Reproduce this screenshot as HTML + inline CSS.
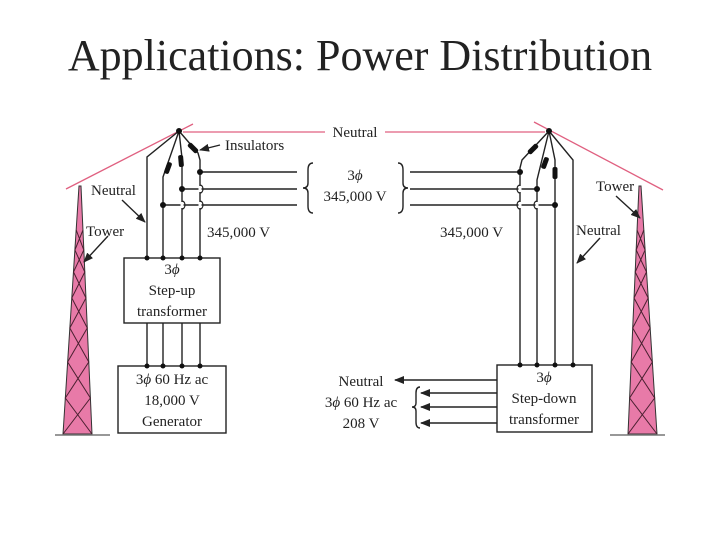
<!DOCTYPE html>
<html><head><meta charset="utf-8"><style>
html,body{margin:0;padding:0;background:#fff;}
svg{display:block;}
text{font-family:"Liberation Serif",serif;fill:#222;}
</style></head><body>
<svg width="720" height="540" viewBox="0 0 720 540" xmlns="http://www.w3.org/2000/svg">
<defs>
<marker id="ah" markerWidth="10" markerHeight="8" refX="9" refY="4" orient="auto" markerUnits="userSpaceOnUse">
<path d="M0,0 L10,4 L0,8 Z" fill="#222"/></marker>
<g id="tower">
<polygon points="79,186 81,186 92,434 63,434" fill="#e87aa8" stroke="#333" stroke-width="1"/>
<polyline fill="none" stroke="#4a2030" stroke-width="1" points="76.2,230 83.8,250 73.5,272 86,298 69.8,328 88.8,362 65.3,398 92,434"/>
<polyline fill="none" stroke="#4a2030" stroke-width="1" points="83,230 74.9,250 84.8,272 71.8,298 87.3,328 67.6,362 90.4,398 63,434"/>
<line x1="55" y1="435" x2="110" y2="435" stroke="#777" stroke-width="1.5"/>
</g>
</defs>

<text x="360" y="70" font-size="44" text-anchor="middle">Applications: Power Distribution</text>

<g stroke="#e06080" stroke-width="1.3" fill="none">
<line x1="66" y1="189" x2="193" y2="124"/>
<line x1="183" y1="132" x2="325" y2="132"/>
<line x1="385" y1="132" x2="545" y2="132"/>
<line x1="534" y1="122" x2="663" y2="190"/>
</g>
<text x="355" y="137" font-size="15" text-anchor="middle">Neutral</text>

<use href="#tower"/>
<use href="#tower" transform="translate(720,0) scale(-1,1)"/>

<g stroke="#222" stroke-width="1.4" fill="none">
<polyline points="179,131 147,157 147,258"/>
<polyline points="179,131 163,177 163,258"/>
<polyline points="179,131 182,158 182,258"/>
<polyline points="179,131 198,153 200,160 200,258"/>
<line x1="200" y1="172" x2="297" y2="172"/>
<line x1="182" y1="189" x2="297" y2="189"/>
<line x1="163" y1="205" x2="297" y2="205"/>
<line x1="147" y1="323" x2="147" y2="366"/>
<line x1="163" y1="323" x2="163" y2="366"/>
<line x1="182" y1="323" x2="182" y2="366"/>
<line x1="200" y1="323" x2="200" y2="366"/>
<polyline points="549,131 573,160 573,365"/>
<polyline points="549,131 522,160 520,168 520,365"/>
<polyline points="549,131 537,180 537,365"/>
<polyline points="549,131 555,160 555,365"/>
<line x1="410" y1="172" x2="520" y2="172"/>
<line x1="410" y1="189" x2="537" y2="189"/>
<line x1="410" y1="205" x2="555" y2="205"/>
<rect x="124" y="258" width="96" height="65" fill="#fff"/>
<rect x="118" y="366" width="108" height="67" fill="#fff"/>
<rect x="497" y="365" width="95" height="67" fill="#fff"/>
<path d="M313,163 Q308,163 308,170 L308,183 Q308,188 303,188 Q308,188 308,193 L308,206 Q308,213 313,213"/>
<path d="M398,163 Q403,163 403,170 L403,183 Q403,188 408,188 Q403,188 403,193 L403,206 Q403,213 398,213"/>
<path d="M420,387 Q416,387 416,393 L416,403 Q416,407 412,407 Q416,407 416,411 L416,422 Q416,428 420,428"/>
<line x1="497" y1="380" x2="395" y2="380" marker-end="url(#ah)"/>
<line x1="497" y1="393" x2="421" y2="393" marker-end="url(#ah)"/>
<line x1="497" y1="407" x2="421" y2="407" marker-end="url(#ah)"/>
<line x1="497" y1="423" x2="421" y2="423" marker-end="url(#ah)"/>
<line x1="220" y1="145" x2="200" y2="150" marker-end="url(#ah)"/>
<line x1="122" y1="200" x2="145" y2="222" marker-end="url(#ah)"/>
<line x1="108" y1="236" x2="84" y2="262" marker-end="url(#ah)"/>
<line x1="600" y1="238" x2="577" y2="263" marker-end="url(#ah)"/>
<line x1="616" y1="196" x2="640" y2="218" marker-end="url(#ah)"/>
</g>
<g stroke="#fff" stroke-width="3">
<line x1="200" y1="186" x2="200" y2="192"/><line x1="200" y1="202" x2="200" y2="208"/>
<line x1="182" y1="202" x2="182" y2="208"/>
<line x1="520" y1="186" x2="520" y2="192"/><line x1="520" y1="202" x2="520" y2="208"/>
<line x1="537" y1="202" x2="537" y2="208"/>
</g>
<g stroke="#222" stroke-width="1.2" fill="none">
<path d="M200,185 a3,4 0 0 1 0,8"/><path d="M200,201 a3,4 0 0 1 0,8"/><path d="M182,201 a3,4 0 0 1 0,8"/>
<path d="M520,185 a3,4 0 0 0 0,8"/><path d="M520,201 a3,4 0 0 0 0,8"/><path d="M537,201 a3,4 0 0 0 0,8"/>
</g>
<g fill="#111">
<rect x="-2.5" y="-6" width="5" height="12" rx="2" transform="translate(168,168) rotate(20)"/>
<rect x="-2.5" y="-6" width="5" height="12" rx="2" transform="translate(181,161) rotate(-5)"/>
<rect x="-2.5" y="-6" width="5" height="12" rx="2" transform="translate(193,148) rotate(-45)"/>
<rect x="-2.5" y="-6" width="5" height="12" rx="2" transform="translate(533,149) rotate(45)"/>
<rect x="-2.5" y="-6" width="5" height="12" rx="2" transform="translate(545,163) rotate(20)"/>
<rect x="-2.5" y="-6" width="5" height="12" rx="2" transform="translate(555,173) rotate(0)"/>
<circle cx="179" cy="131" r="3"/><circle cx="549" cy="131" r="3"/>
<circle cx="200" cy="172" r="3"/><circle cx="182" cy="189" r="3"/><circle cx="163" cy="205" r="3"/>
<circle cx="520" cy="172" r="3"/><circle cx="537" cy="189" r="3"/><circle cx="555" cy="205" r="3"/>
<circle cx="147" cy="258" r="2.5"/><circle cx="163" cy="258" r="2.5"/><circle cx="182" cy="258" r="2.5"/><circle cx="200" cy="258" r="2.5"/>
<circle cx="147" cy="366" r="2.5"/><circle cx="163" cy="366" r="2.5"/><circle cx="182" cy="366" r="2.5"/><circle cx="200" cy="366" r="2.5"/>
<circle cx="520" cy="365" r="2.5"/><circle cx="537" cy="365" r="2.5"/><circle cx="555" cy="365" r="2.5"/><circle cx="573" cy="365" r="2.5"/>
</g>

<g font-size="15">
<text x="225" y="150">Insulators</text>
<text x="91" y="195">Neutral</text>
<text x="86" y="236">Tower</text>
<text x="207" y="237">345,000 V</text>
<text x="440" y="237">345,000 V</text>
<text x="596" y="191">Tower</text>
<text x="576" y="235">Neutral</text>
<text x="355" y="180" text-anchor="middle">3<tspan font-style="italic">ϕ</tspan></text>
<text x="355" y="201" text-anchor="middle">345,000 V</text>
<text x="172" y="274" text-anchor="middle">3<tspan font-style="italic">ϕ</tspan></text>
<text x="172" y="295" text-anchor="middle">Step-up</text>
<text x="172" y="316" text-anchor="middle">transformer</text>
<text x="172" y="384" text-anchor="middle">3<tspan font-style="italic">ϕ</tspan> 60 Hz ac</text>
<text x="172" y="405" text-anchor="middle">18,000 V</text>
<text x="172" y="426" text-anchor="middle">Generator</text>
<text x="544" y="382" text-anchor="middle">3<tspan font-style="italic">ϕ</tspan></text>
<text x="544" y="403" text-anchor="middle">Step-down</text>
<text x="544" y="424" text-anchor="middle">transformer</text>
<text x="361" y="386" text-anchor="middle">Neutral</text>
<text x="361" y="407" text-anchor="middle">3<tspan font-style="italic">ϕ</tspan> 60 Hz ac</text>
<text x="361" y="428" text-anchor="middle">208 V</text>
</g>
</svg>
</body></html>
